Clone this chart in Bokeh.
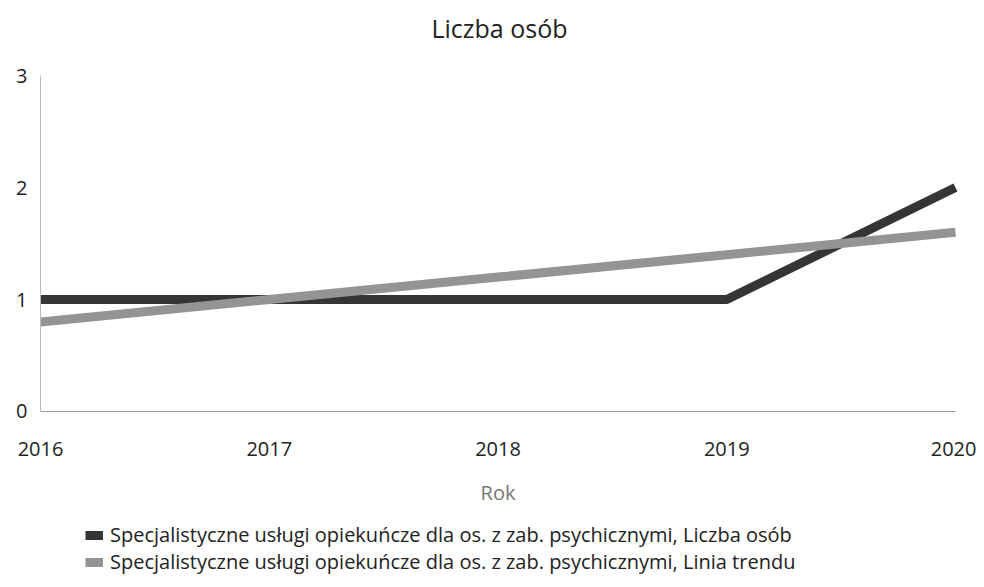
from bokeh.plotting import figure
from bokeh.models import Range1d, Legend, LegendItem, FixedTicker
from bokeh.embed import file_html
from bokeh.resources import INLINE

years = [2016, 2017, 2018, 2019, 2020]
liczba = [1, 1, 1, 1, 2]
trend = [0.8, 1.0, 1.2, 1.4, 1.6]
y_ticks = [0, 1, 2, 3]
title_text = "Liczba osób"
x_label = "Rok"
label_data = "Specjalistyczne usługi opiekuńcze dla os. z zab. psychicznymi, Liczba osób"
label_trend = "Specjalistyczne usługi opiekuńcze dla os. z zab. psychicznymi, Linia trendu"

FONT = "Open Sans"

p = figure(width=976, height=575, output_backend="svg", toolbar_location=None,
           x_range=Range1d(2015.8251, 2020.0918), y_range=Range1d(-1.4643, 3.2768),
           frame_width=976, frame_height=531,
           min_border_left=0, min_border_right=0, min_border_top=44,
           min_border_bottom=0)

p.title.text = title_text
p.title.align = "left"
p.title.offset = 431
p.title.text_font = FONT
p.title.text_font_size = "25px"
p.title.text_font_style = "normal"
p.title.text_color = "#222222"
p.title.standoff = 0

p.grid.visible = False
p.outline_line_color = None

r1 = p.line(years, liczba, line_color="#353535", line_width=9)
r2 = p.line(years, trend, line_color="#949494", line_width=9)

p.xaxis.ticker = FixedTicker(ticks=years)
p.yaxis.ticker = FixedTicker(ticks=y_ticks)
p.xaxis.fixed_location = 0
p.yaxis.fixed_location = years[0]
p.xaxis.bounds = (years[0], years[-1])
p.yaxis.bounds = (y_ticks[0], y_ticks[-1])
for ax in (p.xaxis[0], p.yaxis[0]):
    ax.major_tick_line_color = None
    ax.minor_tick_line_color = None
    ax.major_tick_out = 0
    ax.major_tick_in = 0
    ax.major_label_text_font = FONT
    ax.major_label_text_font_size = "20px"
    ax.major_label_text_color = "#222222"
p.xaxis.axis_line_color = "#999999"
p.yaxis.axis_line_color = "#bbbbbb"
p.xaxis.major_label_standoff = 31
p.yaxis.major_label_standoff = 13
p.xaxis.axis_label = x_label
p.xaxis.axis_label_text_font = FONT
p.xaxis.axis_label_text_font_size = "20px"
p.xaxis.axis_label_text_font_style = "normal"
p.xaxis.axis_label_text_color = "#777777"
p.xaxis.axis_label_standoff = 19


def make_legend(label, renderer, loc):
    lg = Legend(items=[LegendItem(label=label, renderers=[renderer])],
                location=loc, orientation="vertical")
    lg.label_text_font = FONT
    lg.label_text_font_size = "20px"
    lg.label_text_color = "#222222"
    lg.border_line_color = None
    lg.background_fill_alpha = 0
    lg.glyph_width = 18
    lg.glyph_height = 20
    lg.label_height = 20
    lg.spacing = 0
    lg.padding = 0
    lg.margin = 0
    lg.label_standoff = 7
    return lg


p.add_layout(make_legend(label_data, r1, (85, 27)), "center")
p.add_layout(make_legend(label_trend, r2, (85, 0)), "center")

open("out.html", "w").write(file_html(p, INLINE))
